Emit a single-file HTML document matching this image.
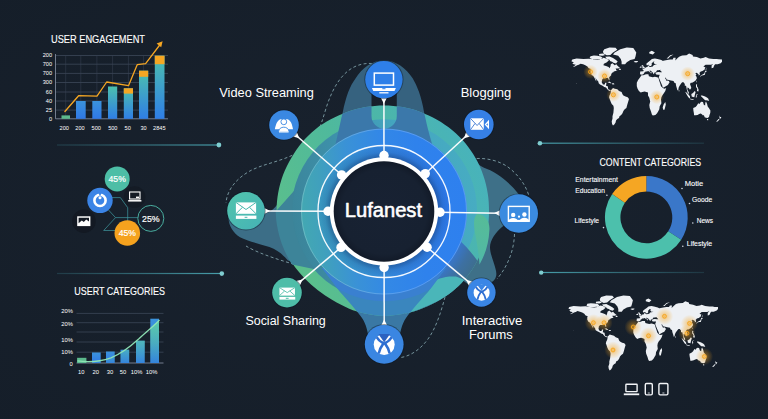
<!DOCTYPE html>
<html><head><meta charset="utf-8"><title>Lufanest</title>
<style>
html,body{margin:0;padding:0;background:#18212c;}
body{width:768px;height:419px;overflow:hidden;font-family:"Liberation Sans",sans-serif;}
svg{display:block}
text{font-family:"Liberation Sans",sans-serif;fill:#fff}
</style></head><body>
<svg width="768" height="419" viewBox="0 0 768 419">
<defs>
<radialGradient id="bgv" cx="50%" cy="50%" r="75%">
 <stop offset="0" stop-color="#19222e"/><stop offset="1" stop-color="#151e29"/>
</radialGradient>
<radialGradient id="glow">
 <stop offset="0" stop-color="#f6a41c" stop-opacity="0.7"/><stop offset="0.4" stop-color="#f6a41c" stop-opacity="0.34"/><stop offset="1" stop-color="#f6a41c" stop-opacity="0"/>
</radialGradient>
<linearGradient id="barg" x1="0" y1="0" x2="0" y2="1">
 <stop offset="0" stop-color="#4cc0ae"/><stop offset="1" stop-color="#2f7ee6"/>
</linearGradient>
<linearGradient id="c2g" gradientUnits="userSpaceOnUse" x1="0" y1="320" x2="0" y2="363"><stop offset="0" stop-color="#66dc9c" stop-opacity="0.8"/><stop offset="0.55" stop-color="#5fd3a0" stop-opacity="0.5"/><stop offset="1" stop-color="#55c8a8" stop-opacity="0.15"/></linearGradient>
<linearGradient id="barb" x1="0" y1="0" x2="0" y2="1">
 <stop offset="0" stop-color="#3b93dc"/><stop offset="1" stop-color="#2f78e6"/>
</linearGradient>
<linearGradient id="g1" x1="0" y1="0.8" x2="1" y2="0.2">
 <stop offset="0" stop-color="#5bbd88"/><stop offset="0.5" stop-color="#4db8a4"/><stop offset="1" stop-color="#47b2b8"/>
</linearGradient>
<linearGradient id="g2" x1="0" y1="0.5" x2="1" y2="0.5">
 <stop offset="0" stop-color="#3f9fb0"/><stop offset="1" stop-color="#3c90c8"/>
</linearGradient>
<linearGradient id="g3" x1="0" y1="0.6" x2="1" y2="0.4">
 <stop offset="0" stop-color="#46b0b8"/><stop offset="0.5" stop-color="#3b98d0"/><stop offset="1" stop-color="#2f7de8"/>
</linearGradient>
<linearGradient id="g4" x1="0" y1="0.6" x2="1" y2="0.4">
 <stop offset="0" stop-color="#3fa2c6"/><stop offset="0.55" stop-color="#3487e0"/><stop offset="1" stop-color="#2b76ec"/>
</linearGradient>
<radialGradient id="core" cx="50%" cy="50%" r="50%">
 <stop offset="0" stop-color="#19233a" stop-opacity="0"/><stop offset="0" stop-color="#182233"/><stop offset="0.85" stop-color="#172131"/><stop offset="1" stop-color="#121a28"/>
</radialGradient>
</defs>
<rect width="768" height="419" fill="url(#bgv)"/>
<defs>
<linearGradient id="lnL" gradientUnits="userSpaceOnUse" x1="58" y1="0" x2="222" y2="0"><stop offset="0" stop-color="#3f8f9c" stop-opacity="0.25"/><stop offset="1" stop-color="#4aa6b2" stop-opacity="0.95"/></linearGradient>
<linearGradient id="lnR" gradientUnits="userSpaceOnUse" x1="540" y1="0" x2="704" y2="0"><stop offset="0" stop-color="#4aa6b2" stop-opacity="0.95"/><stop offset="1" stop-color="#3f8f9c" stop-opacity="0.2"/></linearGradient>
</defs>
<g stroke-width="1" fill="#57b9c4">
<rect x="57" y="144.4" width="162" height="1.2" fill="url(#lnL)"/><circle cx="218.9" cy="145" r="2.4" fill="#7fcdd0"/>
<rect x="57" y="272.9" width="165" height="1.2" fill="url(#lnL)"/><circle cx="221.8" cy="273.6" r="2.3" fill="#7fcdd0"/>
<rect x="540" y="142.6" width="164" height="1.2" fill="url(#lnR)"/><circle cx="539.9" cy="143.2" r="2.3" fill="#7fcdd0"/>
<rect x="541" y="271.9" width="163" height="1.2" fill="url(#lnR)"/><circle cx="541.2" cy="272.6" r="2.2" fill="#7fcdd0"/>
</g>

<g id="chart1">
<text x="51" y="43.2" font-size="10.6" stroke="#fff" stroke-width="0.12" textLength="94" lengthAdjust="spacingAndGlyphs">USER ENGAGEMENT</text>
<line x1="55.5" y1="55.5" x2="168" y2="55.5" stroke="#4a5668" stroke-width="0.6"/>
<line x1="55.5" y1="64.2" x2="168" y2="64.2" stroke="#4a5668" stroke-width="0.6"/>
<line x1="55.5" y1="73.4" x2="168" y2="73.4" stroke="#4a5668" stroke-width="0.6"/>
<line x1="55.5" y1="82.5" x2="168" y2="82.5" stroke="#4a5668" stroke-width="0.6"/>
<line x1="55.5" y1="92" x2="168" y2="92" stroke="#4a5668" stroke-width="0.6"/>
<line x1="55.5" y1="101" x2="168" y2="101" stroke="#4a5668" stroke-width="0.6"/>
<line x1="55.5" y1="110.1" x2="168" y2="110.1" stroke="#4a5668" stroke-width="0.6"/>
<line x1="65.7" y1="55.5" x2="65.7" y2="118.8" stroke="#3a4556" stroke-width="0.5"/>
<line x1="80.8" y1="55.5" x2="80.8" y2="118.8" stroke="#3a4556" stroke-width="0.5"/>
<line x1="96.9" y1="55.5" x2="96.9" y2="118.8" stroke="#3a4556" stroke-width="0.5"/>
<line x1="112.6" y1="55.5" x2="112.6" y2="118.8" stroke="#3a4556" stroke-width="0.5"/>
<line x1="128.4" y1="55.5" x2="128.4" y2="118.8" stroke="#3a4556" stroke-width="0.5"/>
<line x1="143.6" y1="55.5" x2="143.6" y2="118.8" stroke="#3a4556" stroke-width="0.5"/>
<line x1="159.6" y1="55.5" x2="159.6" y2="118.8" stroke="#3a4556" stroke-width="0.5"/>
<line x1="55.5" y1="54" x2="55.5" y2="118.8" stroke="#8b96a8" stroke-width="0.8"/>
<line x1="55.5" y1="118.8" x2="168" y2="118.8" stroke="#8b96a8" stroke-width="0.8"/>
<text x="52" y="57.3" font-size="5.6" text-anchor="end" fill="#e6ebf2">200</text>
<text x="52" y="66.0" font-size="5.6" text-anchor="end" fill="#e6ebf2">700</text>
<text x="52" y="75.2" font-size="5.6" text-anchor="end" fill="#e6ebf2">700</text>
<text x="52" y="84.3" font-size="5.6" text-anchor="end" fill="#e6ebf2">300</text>
<text x="52" y="93.8" font-size="5.6" text-anchor="end" fill="#e6ebf2">60</text>
<text x="52" y="102.8" font-size="5.6" text-anchor="end" fill="#e6ebf2">40</text>
<text x="52" y="111.9" font-size="5.6" text-anchor="end" fill="#e6ebf2">25</text>
<text x="52" y="120.6" font-size="5.6" text-anchor="end" fill="#e6ebf2">0</text>
<text x="64.2" y="129.8" font-size="5.6" text-anchor="middle" fill="#e6ebf2">200</text>
<text x="80" y="129.8" font-size="5.6" text-anchor="middle" fill="#e6ebf2">200</text>
<text x="96.2" y="129.8" font-size="5.6" text-anchor="middle" fill="#e6ebf2">500</text>
<text x="112.8" y="129.8" font-size="5.6" text-anchor="middle" fill="#e6ebf2">500</text>
<text x="127.7" y="129.8" font-size="5.6" text-anchor="middle" fill="#e6ebf2">50</text>
<text x="143.5" y="129.8" font-size="5.6" text-anchor="middle" fill="#e6ebf2">30</text>
<text x="159.3" y="129.8" font-size="5.6" text-anchor="middle" fill="#e6ebf2">2845</text>
<rect x="61.5" y="115.4" width="8.5" height="3.4" fill="#5cb98c"/>
<rect x="76" y="101" width="9.7" height="17.8" fill="url(#barb)"/>
<rect x="92.3" y="101" width="9.2" height="17.8" fill="url(#barb)"/>
<rect x="108" y="86.5" width="9.2" height="32.3" fill="url(#barg)"/>
<rect x="123.8" y="88.3" width="9.2" height="30.5" fill="url(#barg)"/>
<rect x="123.8" y="88.3" width="9.2" height="5.3" fill="#f5a623"/>
<rect x="139" y="70.7" width="9.2" height="48.1" fill="url(#barg)"/>
<rect x="139" y="70.7" width="9.2" height="6.1" fill="#f5a623"/>
<rect x="154.8" y="55.7" width="9.7" height="63.1" fill="url(#barg)"/>
<rect x="154.8" y="55.7" width="9.7" height="8.5" fill="#f5a623"/>
<polyline points="64.9,111.5 78.6,95.7 97,96.2 106.7,82 128.5,85.7 137.2,64.7 145.6,63.6 160.5,44" fill="none" stroke="#f5a623" stroke-width="1.3" stroke-linejoin="round" stroke-linecap="round"/>
<path d="M162.6 41.2 L156.6 43.6 L161.2 47.3 Z" fill="#f5a623"/>
</g>
<g id="bubbles">
<g fill="none" stroke="#3f9aa0" stroke-width="0.7">
<path d="M112 197.6 L120.4 197.6 L127.7 207.7 L127.7 221"/>
<path d="M108.5 210 L115.5 217.6 L138 217.6"/>
<path d="M115.5 217.6 L103.7 230.5 L115 230.5"/>
</g>
<circle cx="134.6" cy="197" r="10.8" fill="#141b25"/>
<circle cx="83.9" cy="221.2" r="11.8" fill="#131923"/>
<circle cx="117.2" cy="178.9" r="12.5" fill="#4dbea6"/>
<circle cx="100" cy="200.4" r="12.7" fill="#3b84e6"/>
<circle cx="150.8" cy="218.4" r="13" fill="#19222e" stroke="#49ad9f" stroke-width="1"/>
<circle cx="127.3" cy="233" r="12.8" fill="#f5a21e"/>
<text x="117.2" y="182" font-size="8.6" text-anchor="middle" stroke="#fff" stroke-width="0.2">45%</text>
<text x="150.8" y="221.6" font-size="8.8" text-anchor="middle" stroke="#fff" stroke-width="0.2">25%</text>
<text x="127.3" y="236.2" font-size="8.6" text-anchor="middle" stroke="#fff" stroke-width="0.2">45%</text>
<g transform="translate(100,200.4)">
 <circle r="5.6" fill="none" stroke="#fff" stroke-width="2.6"/>
 <path d="M-1.6 -8 L0 -3.5 L1.6 -8 Z" fill="#3b84e6"/>
 <circle cx="0" cy="-2.6" r="1.5" fill="#fff"/>
</g>
<g transform="translate(134.8,196.6)" fill="none" stroke="#fff" stroke-width="1.1">
 <rect x="-5.2" y="-4.6" width="10.4" height="7"/><path d="M-6.6 4.2 H6.6" stroke-width="1.5"/><rect x="1.2" y="0" width="3" height="1.6" fill="#fff" stroke="none"/>
</g>
<g transform="translate(83.8,221.2)">
 <rect x="-6.6" y="-4.9" width="13.2" height="9.8" fill="#fff"/>
 <path d="M-5.2 -3.5 L5.2 -3.5 L5.2 0.4 L2.4 -1.6 L0 0.8 L-2 -0.8 L-5.2 2 Z" fill="#131923"/>
</g>
</g>

<g id="chart2">
<text x="74.3" y="295.4" font-size="10.4" stroke="#fff" stroke-width="0.12" textLength="90.6" lengthAdjust="spacingAndGlyphs">USERT CATEGORIES</text>
<line x1="76.5" y1="313.4" x2="163.5" y2="313.4" stroke="#485466" stroke-width="0.6"/>
<line x1="76.5" y1="322.7" x2="163.5" y2="322.7" stroke="#485466" stroke-width="0.6"/>
<line x1="76.5" y1="332" x2="163.5" y2="332" stroke="#485466" stroke-width="0.6"/>
<line x1="76.5" y1="342" x2="163.5" y2="342" stroke="#485466" stroke-width="0.6"/>
<line x1="76.5" y1="352.2" x2="163.5" y2="352.2" stroke="#485466" stroke-width="0.6"/>
<line x1="76.5" y1="363" x2="163.5" y2="363" stroke="#8b96a8" stroke-width="0.8"/>
<text x="72.8" y="312.6" font-size="5.8" text-anchor="end" fill="#e6ebf2">20%</text>
<text x="72.8" y="326" font-size="5.8" text-anchor="end" fill="#e6ebf2">20%</text>
<text x="72.8" y="341.5" font-size="5.8" text-anchor="end" fill="#e6ebf2">10%</text>
<text x="72.8" y="354" font-size="5.8" text-anchor="end" fill="#e6ebf2">10%</text>
<text x="72.8" y="366" font-size="5.8" text-anchor="end" fill="#e6ebf2">0</text>
<text x="81.2" y="373.8" font-size="5.8" text-anchor="middle" fill="#e6ebf2">10</text>
<text x="95.7" y="373.8" font-size="5.8" text-anchor="middle" fill="#e6ebf2">20</text>
<text x="110" y="373.8" font-size="5.8" text-anchor="middle" fill="#e6ebf2">30</text>
<text x="123" y="373.8" font-size="5.8" text-anchor="middle" fill="#e6ebf2">50</text>
<text x="136.5" y="373.8" font-size="5.8" text-anchor="middle" fill="#e6ebf2">10%</text>
<text x="151.5" y="373.8" font-size="5.8" text-anchor="middle" fill="#e6ebf2">10%</text>
<rect x="77.1" y="357.8" width="9.3" height="5.2" fill="#5cb98c"/>
<rect x="92" y="352.5" width="8.7" height="10.5" fill="url(#barb)"/>
<rect x="106" y="351.5" width="8.7" height="11.5" fill="url(#barb)"/>
<rect x="120.5" y="349.7" width="8.7" height="13.3" fill="url(#barb)"/>
<rect x="136" y="340.7" width="8.7" height="22.3" fill="url(#barb)"/>
<rect x="150.3" y="318.7" width="8.7" height="44.3" fill="url(#barb)"/>
<clipPath id="c2bars"><rect x="77.1" y="357.8" width="9.3" height="5.2"/><rect x="92" y="352.5" width="8.7" height="10.5"/><rect x="106" y="351.5" width="8.7" height="11.5"/><rect x="120.5" y="349.7" width="8.7" height="13.3"/><rect x="136" y="340.7" width="8.7" height="22.3"/><rect x="150.3" y="318.7" width="8.7" height="44.3"/></clipPath>
<path d="M77.4 360.9 C88 362.4,100 361.6,110.9 357.8 C122 353.5,131 346,139.2 338.5 C148 330,154 326,159.5 320 L159.5 363 L77.4 363 Z" fill="url(#c2g)" clip-path="url(#c2bars)"/>
<path d="M77.4 360.9 C88 362.4,100 361.6,110.9 357.8 C122 353.5,131 346,139.2 338.5 C148 330,154 326,159.5 320" fill="none" stroke="#8fe6b6" stroke-width="1.3" stroke-opacity="0.95"/>
</g>
<path d="M571.4 61.2L572.3 59.6L576.6 58.4L583.5 59.1L588.7 58.8L593.1 59.3L597.4 59.6L601.7 59.1L603.4 57.8L606.0 58.4L607.3 59.3L609.1 60.1L606.9 62.2L603.9 63.8L603.4 65.2L606.0 66.0L608.6 66.9L609.5 68.2L610.4 66.5L610.8 64.3L612.5 63.3L614.7 65.2L616.4 64.3L617.7 66.0L619.9 67.8L618.2 68.6L615.6 68.6L616.4 70.2L617.7 70.2L615.6 71.1L613.8 71.5L613.4 72.3L612.1 72.7L611.2 74.2L611.2 75.2L609.1 77.2L609.5 79.4L609.1 80.5L608.2 78.3L607.3 77.7L605.2 78.3L603.4 78.3L602.2 79.4L601.7 82.2L603.0 84.5L604.7 84.5L605.2 82.8L606.5 82.8L606.0 85.7L607.8 86.3L608.2 89.3L609.5 89.8L610.8 90.4L609.9 90.9L608.6 90.4L607.3 89.3L606.0 87.5L604.3 86.9L602.6 85.7L600.0 84.5L598.7 83.3L598.3 81.6L596.5 79.4L595.2 77.2L595.7 78.8L596.5 81.6L595.7 80.5L594.4 77.7L593.1 75.7L591.8 75.2L590.5 72.7L590.5 69.8L590.9 69.0L588.7 68.2L587.4 66.5L585.3 65.2L583.1 64.3L580.5 63.8L578.8 64.7L577.1 65.2L574.9 66.5L572.7 66.9L574.9 65.6L575.8 64.7L573.6 64.3L572.3 63.3L574.0 62.2L572.3 61.7L571.4 61.2ZM621.6 64.3L625.1 64.3L626.8 62.2L630.3 60.1L634.6 59.1L635.5 56.5L636.3 52.4L633.3 48.1L626.8 47.5L620.3 49.2L614.7 52.4L613.0 54.5L618.2 55.8L620.8 59.1L621.6 61.7L621.6 64.3ZM589.6 58.1L593.1 59.6L597.4 59.9L600.9 59.3L602.6 57.8L600.9 56.5L597.4 55.8L593.9 55.5L590.5 56.2L589.6 58.1ZM599.1 55.5L602.6 55.8L605.2 54.9L602.6 53.5L599.1 54.0ZM603.4 53.5L606.9 55.2L610.4 54.9L613.0 52.4L617.3 49.7L615.6 47.8L609.5 47.6L604.3 49.2L603.0 51.3L603.4 53.5ZM605.2 56.8L609.5 56.5L613.0 58.1L616.0 60.1L617.7 61.4L616.0 63.4L613.4 62.7L612.1 61.7L610.4 61.2L609.1 59.6L606.9 59.1L605.2 56.8ZM610.8 90.4L613.0 88.1L614.7 88.7L617.3 89.3L619.0 90.9L621.6 92.0L622.5 94.2L623.4 95.4L625.5 96.6L627.7 97.2L629.0 99.0L628.1 102.0L627.2 105.1L626.4 108.0L624.7 109.2L623.4 111.0L622.5 113.3L621.2 115.0L619.5 116.2L619.0 117.9L617.3 119.0L616.0 120.5L615.6 122.5L614.3 124.5L613.0 125.5L612.1 124.0L611.7 121.5L612.5 118.5L612.5 116.2L613.4 112.7L613.8 108.0L613.4 105.7L611.7 103.9L610.8 102.0L609.5 98.4L609.1 97.2L609.5 95.4L610.4 93.7L610.8 92.0L610.8 90.4ZM636.8 86.3L636.8 82.8L638.1 79.9L639.8 77.7L641.5 75.2L643.3 75.2L645.9 74.2L648.4 74.2L648.9 76.2L650.6 76.7L652.8 77.2L654.9 76.7L657.1 77.2L658.4 77.7L659.3 81.1L660.1 83.3L661.0 86.3L662.7 88.1L664.5 88.7L666.2 88.1L665.3 90.9L664.0 93.1L662.3 95.4L661.4 97.2L661.0 99.6L661.4 103.3L659.7 106.3L659.3 109.2L658.4 111.0L657.1 113.3L655.4 115.0L652.8 115.6L651.9 114.4L651.0 111.5L649.7 108.0L649.3 105.1L650.2 101.4L649.3 97.8L648.0 95.4L648.0 92.6L646.3 92.0L644.6 91.5L642.4 92.0L640.7 92.6L638.9 90.9L637.6 88.7L636.8 86.3ZM663.2 109.8L664.5 109.8L665.8 104.5L665.3 102.0L663.6 104.5L662.7 107.5L663.2 109.8ZM640.0 74.2L640.2 71.5L643.3 71.3L643.7 70.2L642.2 69.4L643.3 69.0L645.0 68.2L645.9 67.3L647.6 66.9L647.8 65.6L648.7 65.6L648.9 66.5L650.2 66.9L652.8 66.5L653.6 65.2L656.2 64.5L657.1 64.3L654.9 64.3L653.6 62.7L654.5 61.4L653.2 61.7L651.5 63.8L651.9 64.7L651.0 66.0L649.3 66.0L648.9 64.7L646.7 65.2L646.3 63.8L648.0 62.2L650.2 60.6L651.9 59.1L654.9 58.4L657.5 59.1L661.4 60.1L663.2 61.2L660.6 62.2L659.7 61.2L662.3 60.9L664.5 60.6L667.1 59.9L670.1 59.6L672.7 59.6L673.5 57.8L675.7 57.8L675.3 60.6L677.9 57.8L679.6 56.5L682.2 55.5L686.5 55.2L689.1 53.5L692.6 54.9L693.0 56.5L696.9 57.1L700.4 58.4L703.8 57.8L705.6 57.1L709.0 58.4L713.3 59.1L716.8 59.1L718.5 59.3L722.0 59.6L722.0 61.7L720.7 63.3L717.7 64.3L715.1 64.3L714.2 65.6L713.3 67.8L711.6 68.2L711.6 65.6L713.3 63.8L711.2 64.7L708.2 64.7L705.6 64.7L703.4 66.5L705.1 67.3L704.7 69.4L702.5 71.1L700.8 71.5L699.5 72.7L699.9 74.7L698.6 75.4L698.6 74.2L697.3 73.2L696.5 72.7L695.2 73.2L696.5 74.2L695.6 75.2L696.5 76.7L696.9 78.3L695.6 80.5L694.3 81.6L692.1 82.8L690.8 82.8L690.0 83.9L690.8 86.3L691.3 88.1L690.0 89.8L689.6 89.3L688.7 88.1L687.4 87.5L687.4 89.8L688.7 92.0L689.1 94.0L687.8 93.1L687.0 90.4L686.5 88.1L686.1 85.7L684.8 85.7L684.8 83.9L683.5 82.2L682.2 82.2L681.3 83.3L679.6 85.7L678.7 87.5L678.3 89.8L677.4 90.4L677.0 88.7L676.1 85.7L675.7 83.3L674.4 82.8L673.5 81.1L670.9 80.5L668.8 79.9L666.6 79.4L665.8 77.7L664.9 77.7L666.2 79.9L666.6 81.1L667.9 80.5L668.8 81.1L669.6 82.2L667.9 85.1L665.8 86.3L663.6 87.5L662.7 87.5L662.3 85.7L661.0 82.8L659.3 78.8L658.8 77.2L659.7 74.7L658.0 74.7L656.2 74.4L655.4 73.2L656.7 72.3L658.4 71.9L660.6 72.3L661.9 72.3L661.4 71.5L660.1 70.6L660.6 69.8L658.4 70.2L657.1 70.2L656.2 71.5L656.2 72.3L654.5 72.5L654.1 73.7L653.6 74.2L652.8 72.7L652.3 71.9L650.2 70.6L649.3 70.9L650.6 71.9L651.9 72.5L651.3 73.2L651.0 73.7L650.6 72.5L649.3 71.9L648.4 71.1L646.7 71.5L645.4 71.5L645.4 72.1L644.1 72.7L643.7 73.9L642.0 74.7L640.0 74.2ZM641.7 68.6L644.6 68.2L644.8 67.3L643.5 66.5L643.3 65.4L642.0 65.0L641.5 66.0L642.8 66.7L642.2 67.3L642.8 68.0L641.7 68.6ZM639.8 67.8L641.5 67.8L641.5 66.5L640.4 66.5L639.8 67.1ZM633.7 61.4L634.6 62.2L636.3 62.5L638.1 61.7L637.6 61.0L635.5 60.9L633.7 61.4ZM649.3 53.5L652.8 54.5L654.9 52.4L651.9 50.8L649.3 51.9ZM666.6 58.4L668.3 57.1L670.1 55.2L673.5 54.5L670.1 56.5L668.3 58.4ZM700.4 77.2L701.2 75.7L703.0 75.2L704.7 74.9L705.1 73.7L705.3 72.3L706.9 71.3L706.0 70.6L705.1 71.1L704.7 72.3L704.3 73.4L703.0 74.2L701.2 75.2L700.4 75.9L700.4 77.2ZM705.6 70.2L706.0 68.6L705.6 66.9L706.2 67.8L706.4 69.4ZM696.0 82.2L696.7 80.5L696.9 81.1L696.5 82.2ZM696.0 84.2L697.1 84.5L696.9 86.3L697.8 87.5L698.6 89.8L698.4 91.5L696.9 90.9L697.3 88.7L696.0 86.9L696.0 84.2ZM685.2 91.8L686.5 92.6L688.7 94.8L690.0 96.6L690.0 98.4L688.3 97.2L686.5 94.2L685.2 91.8ZM691.3 94.0L693.0 93.1L694.7 90.9L695.6 92.0L695.0 94.2L694.3 97.2L693.0 96.9L691.7 96.6L691.3 94.0ZM689.8 98.4L691.7 98.9L693.7 99.3L693.4 100.1L690.8 99.6L689.8 99.0L689.8 98.4ZM695.8 97.8L696.0 94.8L697.3 94.2L698.2 94.0L696.5 95.4L697.3 97.2L696.5 96.6L696.3 98.1ZM700.8 95.4L702.1 95.4L703.8 96.0L705.1 96.4L706.9 97.5L708.2 98.4L709.2 101.1L707.7 100.5L706.0 100.2L705.1 100.2L703.8 99.0L702.1 97.2L701.2 96.6L700.8 95.4ZM693.2 108.0L693.4 110.4L693.9 113.3L694.1 115.3L695.6 115.3L697.6 114.9L699.1 114.0L700.8 113.6L702.1 114.4L703.0 115.6L703.8 115.0L704.7 117.3L706.0 117.8L707.5 117.9L709.0 117.0L709.5 115.0L710.3 112.7L710.4 110.4L709.0 108.3L707.7 106.6L707.1 103.9L706.0 101.4L705.3 102.7L705.1 105.4L703.8 104.8L703.0 102.0L701.4 101.7L700.4 102.4L699.5 103.9L698.2 103.3L696.9 105.4L695.6 106.9L693.2 108.0ZM706.9 119.0L708.2 119.0L708.2 120.2L707.3 120.2L706.9 119.0ZM719.0 115.3L719.8 116.7L721.4 117.2L720.7 118.2L719.8 119.2L719.6 117.9L719.0 115.3ZM719.2 119.0L719.4 119.5L718.1 121.0L717.0 121.7L716.2 121.5L717.7 120.0L718.5 119.0L719.2 119.0ZM678.7 89.5L679.5 90.7L679.2 91.5L678.7 91.2L678.7 89.5ZM607.3 82.2L609.5 81.6L611.7 83.3L610.4 83.3L608.2 82.5L607.3 82.2ZM612.1 83.3L613.8 83.3L614.5 84.2L613.0 84.5L612.1 84.2ZM618.6 69.6L619.9 68.2L621.2 69.8L619.9 69.9ZM576.6 83.3L577.1 83.6L576.8 83.9Z" fill="#edf0f4"/>
<circle cx="590.5" cy="71.8" r="7.2" fill="url(#glow)"/><circle cx="590.5" cy="71.8" r="2.0" fill="none" stroke="#f6a41c" stroke-width="0.9"/>
<circle cx="604.5" cy="76" r="7.2" fill="url(#glow)"/><circle cx="604.5" cy="76" r="2.0" fill="none" stroke="#f6a41c" stroke-width="0.9"/>
<circle cx="613.4" cy="94.8" r="7.2" fill="url(#glow)"/><circle cx="613.4" cy="94.8" r="2.0" fill="none" stroke="#f6a41c" stroke-width="0.9"/>
<circle cx="656.8" cy="97" r="7.2" fill="url(#glow)"/><circle cx="656.8" cy="97" r="2.0" fill="none" stroke="#f6a41c" stroke-width="0.9"/>
<circle cx="687.7" cy="73.7" r="7.2" fill="url(#glow)"/><circle cx="687.7" cy="73.7" r="2.0" fill="none" stroke="#f6a41c" stroke-width="0.9"/>
<path d="M568.4 308.6L569.3 307.1L573.6 306.0L580.5 306.6L585.6 306.3L589.9 306.9L594.2 307.1L598.5 306.6L600.2 305.4L602.8 306.0L604.1 306.9L605.8 307.6L603.7 309.6L600.7 311.1L600.2 312.5L602.8 313.3L605.4 314.2L606.3 315.4L607.1 313.7L607.5 311.7L609.3 310.6L611.4 312.5L613.1 311.7L614.4 313.3L616.6 315.0L614.8 315.8L612.3 315.8L613.1 317.4L614.4 317.4L612.3 318.1L610.6 318.5L610.1 319.3L608.8 319.7L608.0 321.1L608.0 322.1L605.8 324.0L606.3 326.2L605.8 327.2L605.0 325.1L604.1 324.5L602.0 325.1L600.2 325.1L598.9 326.2L598.5 328.9L599.8 331.1L601.5 331.1L602.0 329.4L603.2 329.4L602.8 332.2L604.5 332.8L605.0 335.7L606.3 336.2L607.5 336.7L606.7 337.3L605.4 336.7L604.1 335.7L602.8 333.9L601.1 333.4L599.4 332.2L596.8 331.1L595.5 330.0L595.1 328.3L593.4 326.2L592.1 324.0L592.5 325.6L593.4 328.3L592.5 327.2L591.2 324.5L589.9 322.6L588.6 322.1L587.3 319.7L587.3 317.0L587.8 316.2L585.6 315.4L584.3 313.7L582.2 312.5L580.0 311.7L577.5 311.1L575.7 312.1L574.0 312.5L571.9 313.7L569.7 314.2L571.9 312.9L572.7 312.1L570.6 311.7L569.3 310.6L571.0 309.6L569.3 309.1L568.4 308.6ZM618.3 311.7L621.7 311.7L623.4 309.6L626.9 307.6L631.2 306.6L632.0 304.1L632.9 300.2L629.9 296.0L623.4 295.5L617.0 297.1L611.4 300.2L609.7 302.3L614.8 303.5L617.4 306.6L618.3 309.1L618.3 311.7ZM586.5 305.7L589.9 307.1L594.2 307.4L597.7 306.9L599.4 305.4L597.7 304.1L594.2 303.5L590.8 303.2L587.3 303.8L586.5 305.7ZM595.9 303.2L599.4 303.5L602.0 302.6L599.4 301.2L595.9 301.7ZM600.2 301.2L603.7 302.9L607.1 302.6L609.7 300.2L614.0 297.6L612.3 295.7L606.3 295.6L601.1 297.1L599.8 299.1L600.2 301.2ZM602.0 304.4L606.3 304.1L609.7 305.7L612.7 307.6L614.4 308.9L612.7 310.7L610.1 310.1L608.8 309.1L607.1 308.6L605.8 307.1L603.7 306.6L602.0 304.4ZM607.5 336.7L609.7 334.5L611.4 335.1L614.0 335.7L615.7 337.3L618.3 338.3L619.1 340.5L620.0 341.6L622.2 342.7L624.3 343.3L625.6 345.1L624.7 348.0L623.9 350.9L623.0 353.7L621.3 354.9L620.0 356.5L619.1 358.8L617.9 360.4L616.1 361.5L615.7 363.2L614.0 364.2L612.7 365.7L612.3 367.6L611.0 369.5L609.7 370.5L608.8 369.1L608.4 366.6L609.3 363.7L609.3 361.5L610.1 358.2L610.6 353.7L610.1 351.4L608.4 349.7L607.5 348.0L606.3 344.5L605.8 343.3L606.3 341.6L607.1 339.9L607.5 338.3L607.5 336.7ZM633.3 332.8L633.3 329.4L634.6 326.7L636.3 324.5L638.1 322.1L639.8 322.1L642.4 321.1L644.9 321.1L645.4 323.1L647.1 323.6L649.2 324.0L651.4 323.6L653.5 324.0L654.8 324.5L655.7 327.8L656.5 330.0L657.4 332.8L659.1 334.5L660.8 335.1L662.6 334.5L661.7 337.3L660.4 339.4L658.7 341.6L657.8 343.3L657.4 345.6L657.8 349.1L656.1 352.0L655.7 354.9L654.8 356.5L653.5 358.8L651.8 360.4L649.2 361.0L648.4 359.9L647.5 357.1L646.2 353.7L645.8 350.9L646.7 347.4L645.8 343.9L644.5 341.6L644.5 338.9L642.8 338.3L641.1 337.8L638.9 338.3L637.2 338.9L635.5 337.3L634.2 335.1L633.3 332.8ZM659.5 355.4L660.8 355.4L662.1 350.3L661.7 348.0L660.0 350.3L659.1 353.2L659.5 355.4ZM636.6 321.1L636.8 318.5L639.8 318.3L640.2 317.4L638.7 316.6L639.8 316.2L641.5 315.4L642.4 314.6L644.1 314.2L644.3 312.9L645.1 312.9L645.4 313.7L646.7 314.2L649.2 313.7L650.1 312.5L652.7 311.9L653.5 311.7L651.4 311.7L650.1 310.1L651.0 308.9L649.7 309.1L647.9 311.1L648.4 312.1L647.5 313.3L645.8 313.3L645.4 312.1L643.2 312.5L642.8 311.1L644.5 309.6L646.7 308.1L648.4 306.6L651.4 306.0L654.0 306.6L657.8 307.6L659.5 308.6L657.0 309.6L656.1 308.6L658.7 308.4L660.8 308.1L663.4 307.4L666.4 307.1L669.0 307.1L669.9 305.4L672.0 305.4L671.6 308.1L674.2 305.4L675.9 304.1L678.5 303.2L682.8 302.9L685.3 301.2L688.8 302.6L689.2 304.1L693.1 304.8L696.5 306.0L699.9 305.4L701.7 304.8L705.1 306.0L709.4 306.6L712.8 306.6L714.6 306.9L718.0 307.1L718.0 309.1L716.7 310.6L713.7 311.7L711.1 311.7L710.3 312.9L709.4 315.0L707.7 315.4L707.7 312.9L709.4 311.1L707.3 312.1L704.2 312.1L701.7 312.1L699.5 313.7L701.2 314.6L700.8 316.6L698.7 318.1L696.9 318.5L695.7 319.7L696.1 321.6L694.8 322.4L694.8 321.1L693.5 320.2L692.6 319.7L691.4 320.2L692.6 321.1L691.8 322.1L692.6 323.6L693.1 325.1L691.8 327.2L690.5 328.3L688.3 329.4L687.1 329.4L686.2 330.5L687.1 332.8L687.5 334.5L686.2 336.2L685.8 335.7L684.9 334.5L683.6 333.9L683.6 336.2L684.9 338.3L685.3 340.2L684.0 339.4L683.2 336.7L682.8 334.5L682.3 332.2L681.0 332.2L681.0 330.5L679.7 328.9L678.5 328.9L677.6 330.0L675.9 332.2L675.0 333.9L674.6 336.2L673.7 336.7L673.3 335.1L672.4 332.2L672.0 330.0L670.7 329.4L669.9 327.8L667.3 327.2L665.1 326.7L663.0 326.2L662.1 324.5L661.3 324.5L662.6 326.7L663.0 327.8L664.3 327.2L665.1 327.8L666.0 328.9L664.3 331.7L662.1 332.8L660.0 333.9L659.1 333.9L658.7 332.2L657.4 329.4L655.7 325.6L655.2 324.0L656.1 321.6L654.4 321.6L652.7 321.4L651.8 320.2L653.1 319.3L654.8 318.9L657.0 319.3L658.3 319.3L657.8 318.5L656.5 317.8L657.0 317.0L654.8 317.4L653.5 317.4L652.7 318.5L652.7 319.3L651.0 319.5L650.5 320.7L650.1 321.1L649.2 319.7L648.8 318.9L646.7 317.8L645.8 317.9L647.1 318.9L648.4 319.5L647.7 320.2L647.5 320.7L647.1 319.5L645.8 318.9L644.9 318.1L643.2 318.5L641.9 318.5L641.9 319.1L640.6 319.7L640.2 320.9L638.5 321.6L636.6 321.1ZM638.3 315.8L641.1 315.4L641.3 314.6L640.0 313.7L639.8 312.7L638.5 312.3L638.1 313.3L639.3 313.9L638.7 314.6L639.3 315.2L638.3 315.8ZM636.3 315.0L638.1 315.0L638.1 313.7L637.0 313.7L636.3 314.4ZM630.3 308.9L631.2 309.6L632.9 309.9L634.6 309.1L634.2 308.5L632.0 308.4L630.3 308.9ZM645.8 301.2L649.2 302.3L651.4 300.2L648.4 298.6L645.8 299.7ZM663.0 306.0L664.7 304.8L666.4 302.9L669.9 302.3L666.4 304.1L664.7 306.0ZM696.5 324.0L697.4 322.6L699.1 322.1L700.8 321.9L701.2 320.7L701.5 319.3L703.0 318.3L702.1 317.8L701.2 318.1L700.8 319.3L700.4 320.4L699.1 321.1L697.4 322.1L696.5 322.8L696.5 324.0ZM701.7 317.4L702.1 315.8L701.7 314.2L702.3 315.0L702.5 316.6ZM692.2 328.9L692.9 327.2L693.1 327.8L692.6 328.9ZM692.2 330.8L693.3 331.1L693.1 332.8L693.9 333.9L694.8 336.2L694.6 337.8L693.1 337.3L693.5 335.1L692.2 333.4L692.2 330.8ZM681.5 338.1L682.8 338.9L684.9 341.0L686.2 342.7L686.2 344.5L684.5 343.3L682.8 340.5L681.5 338.1ZM687.5 340.2L689.2 339.4L690.9 337.3L691.8 338.3L691.1 340.5L690.5 343.3L689.2 343.0L687.9 342.7L687.5 340.2ZM686.0 344.5L687.9 344.9L689.8 345.3L689.6 346.0L687.1 345.6L686.0 345.1L686.0 344.5ZM692.0 343.9L692.2 341.0L693.5 340.5L694.4 340.2L692.6 341.6L693.5 343.3L692.6 342.7L692.4 344.2ZM696.9 341.6L698.2 341.6L699.9 342.1L701.2 342.6L703.0 343.6L704.2 344.5L705.3 347.1L703.8 346.5L702.1 346.2L701.2 346.2L699.9 345.1L698.2 343.3L697.4 342.7L696.9 341.6ZM689.4 353.7L689.6 356.0L690.1 358.8L690.3 360.7L691.8 360.7L693.7 360.3L695.2 359.4L696.9 359.0L698.2 359.9L699.1 361.0L699.9 360.4L700.8 362.6L702.1 363.1L703.6 363.2L705.1 362.4L705.5 360.4L706.4 358.2L706.5 356.0L705.1 354.0L703.8 352.3L703.2 349.7L702.1 347.4L701.5 348.5L701.2 351.2L699.9 350.6L699.1 348.0L697.6 347.7L696.5 348.2L695.7 349.7L694.4 349.1L693.1 351.2L691.8 352.6L689.4 353.7ZM703.0 364.2L704.2 364.2L704.2 365.4L703.4 365.4L703.0 364.2ZM715.0 360.7L715.9 362.1L717.4 362.5L716.7 363.5L715.9 364.5L715.6 363.2L715.0 360.7ZM715.2 364.2L715.4 364.7L714.1 366.2L713.1 366.9L712.2 366.6L713.7 365.2L714.6 364.2L715.2 364.2ZM675.0 335.9L675.8 337.0L675.4 337.8L675.0 337.5L675.0 335.9ZM604.1 328.9L606.3 328.3L608.4 330.0L607.1 330.0L605.0 329.1L604.1 328.9ZM608.8 330.0L610.6 330.0L611.2 330.8L609.7 331.1L608.8 330.8ZM615.3 316.8L616.6 315.4L617.9 317.0L616.6 317.1ZM573.6 330.0L574.0 330.2L573.8 330.5Z" fill="#edf0f4"/>
<circle cx="593.4" cy="322.7" r="8.7" fill="url(#glow)"/><circle cx="593.4" cy="322.7" r="1.9" fill="none" stroke="#f6a41c" stroke-width="0.9"/>
<circle cx="604" cy="322.7" r="8.7" fill="url(#glow)"/><circle cx="604" cy="322.7" r="1.9" fill="none" stroke="#f6a41c" stroke-width="0.9"/>
<circle cx="633.2" cy="327" r="8.7" fill="url(#glow)"/><circle cx="633.2" cy="327" r="1.9" fill="none" stroke="#f6a41c" stroke-width="0.9"/>
<circle cx="664.5" cy="316.3" r="8.7" fill="url(#glow)"/><circle cx="664.5" cy="316.3" r="1.9" fill="none" stroke="#f6a41c" stroke-width="0.9"/>
<circle cx="689.5" cy="323.4" r="8.7" fill="url(#glow)"/><circle cx="689.5" cy="323.4" r="1.9" fill="none" stroke="#f6a41c" stroke-width="0.9"/>
<circle cx="687" cy="333.3" r="8.7" fill="url(#glow)"/><circle cx="687" cy="333.3" r="1.9" fill="none" stroke="#f6a41c" stroke-width="0.9"/>
<circle cx="648.5" cy="335.8" r="8.7" fill="url(#glow)"/><circle cx="648.5" cy="335.8" r="1.9" fill="none" stroke="#f6a41c" stroke-width="0.9"/>
<circle cx="613" cy="350" r="8.7" fill="url(#glow)"/><circle cx="613" cy="350" r="1.9" fill="none" stroke="#f6a41c" stroke-width="0.9"/>
<circle cx="704.4" cy="356.5" r="8.7" fill="url(#glow)"/><circle cx="704.4" cy="356.5" r="1.9" fill="none" stroke="#f6a41c" stroke-width="0.9"/>
<g fill="none" stroke="#f2f4f7" stroke-width="1.4">
<rect x="625.9" y="384.2" width="11.2" height="7.4" rx="0.6"/><path d="M623.8 394.3 H639.2" stroke-width="1.8"/>
<rect x="645.3" y="383.5" width="7" height="11.4" rx="1.3"/><path d="M647.8 393 H649.8" stroke-width="0.8"/>
<rect x="658.9" y="383.5" width="9" height="11.4" rx="1.3"/><path d="M662.4 393 H664.4" stroke-width="0.8"/>
</g>

<g id="donut">
<text x="599.5" y="165.7" font-size="10.4" stroke="#fff" stroke-width="0.12" textLength="101.7" lengthAdjust="spacingAndGlyphs">CONTENT CATEGORIES</text>
<path d="M646.30 176.00 A41.4 41.4 0 0 1 681.22 239.64 L668.23 231.37 A26 26 0 0 0 646.30 191.40 Z" fill="#3a77c9"/>
<path d="M681.22 239.64 A41.4 41.4 0 1 1 612.18 193.95 L624.87 202.67 A26 26 0 1 0 668.23 231.37 Z" fill="#4cc0ac"/>
<path d="M612.18 193.95 A41.4 41.4 0 0 1 646.30 176.00 L646.30 191.40 A26 26 0 0 0 624.87 202.67 Z" fill="#f5a623"/>
<text x="575.3" y="181.6" font-size="7.5" fill="#f2f4f8" stroke="#f2f4f8" stroke-width="0.12" textLength="42.6" lengthAdjust="spacingAndGlyphs">Entertainment</text>
<text x="575.3" y="193.4" font-size="7.5" fill="#f2f4f8" stroke="#f2f4f8" stroke-width="0.12" textLength="29.6" lengthAdjust="spacingAndGlyphs">Education</text>
<text x="574.5" y="222.8" font-size="7.5" fill="#f2f4f8" stroke="#f2f4f8" stroke-width="0.12" textLength="24.6" lengthAdjust="spacingAndGlyphs">Lifestyle</text>
<text x="684.8" y="186" font-size="7.5" fill="#f2f4f8" stroke="#f2f4f8" stroke-width="0.12" textLength="18.4" lengthAdjust="spacingAndGlyphs">Motie</text>
<text x="692" y="201.8" font-size="7.5" fill="#f2f4f8" stroke="#f2f4f8" stroke-width="0.12" textLength="20.2" lengthAdjust="spacingAndGlyphs">Goode</text>
<text x="696.7" y="222.8" font-size="7.5" fill="#f2f4f8" stroke="#f2f4f8" stroke-width="0.12" textLength="16.4" lengthAdjust="spacingAndGlyphs">News</text>
<text x="686.8" y="246.2" font-size="7.5" fill="#f2f4f8" stroke="#f2f4f8" stroke-width="0.12" textLength="25.4" lengthAdjust="spacingAndGlyphs">Lifestyle</text>
<circle cx="682" cy="188.5" r="0.8" fill="#cfd6e0"/>
<circle cx="689.5" cy="203.5" r="0.8" fill="#cfd6e0"/>
<circle cx="692.8" cy="223" r="0.8" fill="#cfd6e0"/>
<circle cx="682.8" cy="246.3" r="0.8" fill="#cfd6e0"/>
<circle cx="603.5" cy="227.6" r="0.8" fill="#cfd6e0"/>
<circle cx="606.9" cy="195.2" r="0.8" fill="#cfd6e0"/>
</g><defs>
<linearGradient id="leafg" gradientUnits="userSpaceOnUse" x1="484" y1="216" x2="470" y2="274"><stop offset="0" stop-color="#56bc98"/><stop offset="0.6" stop-color="#52b9a2"/><stop offset="1" stop-color="#4ab5b6"/></linearGradient>
<radialGradient id="seg" gradientUnits="userSpaceOnUse" cx="384" cy="211.5" r="107"><stop offset="0.775" stop-color="#3976c8"/><stop offset="0.88" stop-color="#3d70a2"/><stop offset="1" stop-color="#3e6e8c"/></radialGradient>
<linearGradient id="o1" gradientUnits="userSpaceOnUse" x1="285" y1="260" x2="480" y2="165">
 <stop offset="0" stop-color="#5cc08a"/><stop offset="0.45" stop-color="#4fb99c"/><stop offset="1" stop-color="#48b3bb"/>
</linearGradient>
<linearGradient id="o2" gradientUnits="userSpaceOnUse" x1="291" y1="230" x2="477" y2="195">
 <stop offset="0" stop-color="#3b8499"/><stop offset="0.35" stop-color="#3e92ac"/><stop offset="0.65" stop-color="#44a6c0"/><stop offset="1" stop-color="#47acc2"/>
</linearGradient>
<linearGradient id="o3" gradientUnits="userSpaceOnUse" x1="301" y1="218" x2="467" y2="205">
 <stop offset="0" stop-color="#43a8b2"/><stop offset="0.13" stop-color="#40a0bd"/><stop offset="0.3" stop-color="#3a92d6"/><stop offset="0.5" stop-color="#3388e6"/><stop offset="0.72" stop-color="#2f82ec"/><stop offset="1" stop-color="#2e80ef"/>
</linearGradient>
<linearGradient id="o4" gradientUnits="userSpaceOnUse" x1="317" y1="222" x2="451" y2="200">
 <stop offset="0" stop-color="#3b9cc0"/><stop offset="0.5" stop-color="#3487df"/><stop offset="1" stop-color="#2d78ea"/>
</linearGradient>
<radialGradient id="sh" gradientUnits="userSpaceOnUse" cx="384" cy="211.5" r="66">
 <stop offset="0.82" stop-color="#0e2a5a" stop-opacity="0.4"/><stop offset="0.9" stop-color="#0e2a5a" stop-opacity="0.12"/><stop offset="1" stop-color="#0e2a5a" stop-opacity="0"/>
</radialGradient>
</defs>
<g fill="none" stroke="#9cc4cc" stroke-width="1" stroke-dasharray="3 2.4" stroke-opacity="0.7">
<path d="M372 63.5 C348 62,334 82,325.5 110 C320 128,318 138,297 153 C280 162,262 164,249 171.5 C236 179,227 190,226 203"/>
<path d="M466 160 C482 156,500 160,510.5 169 C520 177,526 186,529 196"/>
<path d="M514.5 234 C514 250,508 266,497 279"/>
<path d="M445 297 C441 312,436 328,428 339 C420 350,410 356,401 357.5"/>
<path d="M246 246 C256 252,272 258,300 266"/>
</g>

<g id="petals">
<clipPath id="cd"><path d="M384.0 105.5 C390.1 105.5,396.4 106.0,402.4 107.1 C408.5 108.2,414.5 109.8,420.2 111.9 C426.0 114.0,431.7 116.7,437.0 119.7 C442.3 122.7,447.5 126.2,452.3 130.2 C457.0 134.1,461.4 138.5,465.4 143.2 C469.3 148.0,472.8 153.1,475.8 158.5 C478.8 163.9,481.3 169.6,483.3 175.4 C485.3 181.1,486.8 187.2,487.7 193.2 C488.7 199.2,489.0 205.4,489.0 211.5 C489.0 217.6,488.6 223.8,487.6 229.8 C486.7 235.8,485.2 241.8,483.1 247.6 C481.1 253.3,478.4 259.0,475.4 264.2 C472.3 269.5,468.8 274.7,464.8 279.3 C460.9 283.9,456.4 288.3,451.6 292.1 C446.8 295.8,441.6 299.1,436.2 302.0 C430.9 304.9,425.3 307.4,419.6 309.4 C413.9 311.4,408.0 313.0,402.1 314.1 C396.2 315.2,390.0 316.1,384.0 316.0 C378.0 315.9,371.9 315.0,366.0 313.8 C360.1 312.5,354.2 310.7,348.7 308.4 C343.2 306.2,337.9 303.3,332.8 300.3 C327.6 297.2,322.6 293.9,317.9 290.3 C313.2 286.6,308.7 282.6,304.5 278.2 C300.3 273.8,296.2 269.2,292.8 264.1 C289.4 259.1,286.6 253.5,284.3 247.8 C282.0 242.1,280.1 236.1,278.8 230.1 C277.5 224.0,276.7 217.7,276.6 211.5 C276.5 205.3,277.1 199.0,278.2 192.8 C279.3 186.7,280.9 180.6,283.1 174.8 C285.3 169.0,288.2 163.4,291.3 158.0 C294.5 152.6,297.9 147.3,301.9 142.6 C305.9 137.8,310.4 133.4,315.2 129.5 C320.0 125.6,325.3 122.2,330.8 119.3 C336.2 116.3,341.9 113.8,347.7 111.7 C353.5 109.7,359.5 108.2,365.6 107.1 C371.6 106.1,377.9 105.5,384.0 105.5Z"/></clipPath>
<clipPath id="cb"><ellipse cx="384.3" cy="210.2" rx="92.7" ry="91"/></clipPath>
<path d="M330 165 C336 145,339.5 125,342.6 113 C346 96,350 86,355.5 78.6 C362 68,372 60.5,384 60.5 C396 60.5,406 68,412.8 78.6 C417 86,421.5 96,424.2 113 C427 125,431 145,440 165 Z M371.5 92 L396.8 92 L396.8 116 A12.65 12.65 0 0 1 371.5 116 Z" fill="#36627f" fill-rule="evenodd"/>
<path d="M470 152 C475 161,479 165.5,484 167.8 C495 171.5,509 181.5,519 194.5 L522 215 C512 222,506 224,502 227 C496 232,490 240,490 247.3 C490 254,494 262,495.5 268.8 C497 274,497 278,492 282 L481 293 L468 284 L462 280 L440 280 L440 200 Z" fill="#3e7088"/>
<path d="M322 268 L340 292 C350 303,357 311,362 318 C366 324,368.5 332,369 345 L399 345 C399.5 332,402 324,406 318 C411 311,418 303,428 292 L446 268 Z" fill="#3a78a4"/>
<path d="M262 214.5 C268 213.5,273 210,277 205 L300 205 L310 240 L300 264 L288 260.5 C284 256,278 250,269.4 247.1 C258 243.5,247 241,240 237.2 C233 233,229 226,228.5 218.6 C228 210,236 200,246 200 Z" fill="#3c6e87"/>
<path d="M384.0 105.5 C390.1 105.5,396.4 106.0,402.4 107.1 C408.5 108.2,414.5 109.8,420.2 111.9 C426.0 114.0,431.7 116.7,437.0 119.7 C442.3 122.7,447.5 126.2,452.3 130.2 C457.0 134.1,461.4 138.5,465.4 143.2 C469.3 148.0,472.8 153.1,475.8 158.5 C478.8 163.9,481.3 169.6,483.3 175.4 C485.3 181.1,486.8 187.2,487.7 193.2 C488.7 199.2,489.0 205.4,489.0 211.5 C489.0 217.6,488.6 223.8,487.6 229.8 C486.7 235.8,485.2 241.8,483.1 247.6 C481.1 253.3,478.4 259.0,475.4 264.2 C472.3 269.5,468.8 274.7,464.8 279.3 C460.9 283.9,456.4 288.3,451.6 292.1 C446.8 295.8,441.6 299.1,436.2 302.0 C430.9 304.9,425.3 307.4,419.6 309.4 C413.9 311.4,408.0 313.0,402.1 314.1 C396.2 315.2,390.0 316.1,384.0 316.0 C378.0 315.9,371.9 315.0,366.0 313.8 C360.1 312.5,354.2 310.7,348.7 308.4 C343.2 306.2,337.9 303.3,332.8 300.3 C327.6 297.2,322.6 293.9,317.9 290.3 C313.2 286.6,308.7 282.6,304.5 278.2 C300.3 273.8,296.2 269.2,292.8 264.1 C289.4 259.1,286.6 253.5,284.3 247.8 C282.0 242.1,280.1 236.1,278.8 230.1 C277.5 224.0,276.7 217.7,276.6 211.5 C276.5 205.3,277.1 199.0,278.2 192.8 C279.3 186.7,280.9 180.6,283.1 174.8 C285.3 169.0,288.2 163.4,291.3 158.0 C294.5 152.6,297.9 147.3,301.9 142.6 C305.9 137.8,310.4 133.4,315.2 129.5 C320.0 125.6,325.3 122.2,330.8 119.3 C336.2 116.3,341.9 113.8,347.7 111.7 C353.5 109.7,359.5 108.2,365.6 107.1 C371.6 106.1,377.9 105.5,384.0 105.5Z" fill="url(#o1)"/>
<ellipse cx="384.3" cy="210.2" rx="92.7" ry="91" fill="url(#o2)"/>
<g clip-path="url(#cd)">
<path d="M459 240 C466 246,472 253,479 263 L476 275 L466 290 L405 318 L398 290 L440 240 Z" fill="url(#seg)"/>
<path d="M466.5 282.2 C466.7 283.8,461.8 285.2,459.4 286.9 C457.0 288.6,454.6 290.6,452.2 292.3 C449.8 294.0,447.7 295.4,445.1 297.0 C442.5 298.6,439.7 300.3,436.7 301.8 C433.7 303.3,430.0 304.8,427.2 306.0 C424.4 307.2,422.5 308.0,420.0 309.0 C417.5 310.0,414.4 311.0,412.0 311.8 C409.6 312.6,406.2 314.9,405.5 314.0 C404.8 313.1,406.5 308.6,407.5 306.5 C408.5 304.4,410.2 303.2,411.5 301.5 C412.8 299.8,414.1 298.1,415.5 296.5 C416.9 294.9,418.1 293.9,420.0 292.1 C421.9 290.3,424.6 287.5,427.2 285.5 C429.8 283.5,432.7 281.5,435.5 280.1 C438.3 278.8,441.3 278.0,443.9 277.4 C446.5 276.8,448.6 276.6,451.0 276.6 C453.4 276.6,455.6 276.3,458.2 277.2 C460.8 278.1,466.3 280.6,466.5 282.2Z" fill="#4ab6b9"/>
</g>
<path d="M477 214 C486 215,490 222,489.4 230 C488.8 243,485.5 254,479.5 264.5 C478.5 251,476.5 241,474.5 230 C473.5 222,474 217,477 214 Z" fill="url(#leafg)"/>
<g clip-path="url(#cd)">
<path d="M330 165 C336 145,339.5 125,342.6 113 C346 96,350 86,355.5 78.6 C362 68,372 60.5,384 60.5 C396 60.5,406 68,412.8 78.6 C417 86,421.5 96,424.2 113 C427 125,431 145,440 165 Z M371.5 92 L396.8 92 L396.8 116 A12.65 12.65 0 0 1 371.5 116 Z" fill="#3b78aa" fill-rule="evenodd"/>
<path d="M322 268 L340 292 C350 303,357 311,362 318 C366 324,368.5 332,369 345 L399 345 C399.5 332,402 324,406 318 C411 311,418 303,428 292 L446 268 Z" fill="#3a86be"/>
</g>
<path d="M294.6 190.2 A91.5 89.8 0 0 0 315 269.2 L292.03 264.60 C288.64 259.49,285.80 253.83,283.45 248.10 C281.10 242.37,279.22 236.31,277.93 230.21 C276.63 224.11,275.80 217.75,275.69 211.50 Z" fill="#3d8499"/>
<g clip-path="url(#cb)">
<path d="M322 268 L340 292 C350 303,357 311,362 318 C366 324,368.5 332,369 345 L399 345 C399.5 332,402 324,406 318 C411 311,418 303,428 292 L446 268 Z" fill="#3a80d0"/>
</g>
</g>

<g id="disc">
<circle cx="384" cy="211.5" r="83" fill="url(#o3)"/>
<circle cx="384" cy="211.5" r="82.5" fill="none" stroke="#fff" stroke-opacity="0.22" stroke-width="0.9"/>
<circle cx="384" cy="211.5" r="66" fill="url(#o4)"/>
<circle cx="384" cy="211.5" r="66" fill="url(#sh)"/>
</g>

<defs><linearGradient id="wic" x1="0" y1="0" x2="1" y2="1"><stop offset="0" stop-color="#52c4ac"/><stop offset="1" stop-color="#45b2b6"/></linearGradient></defs>
<g stroke="#fff" stroke-width="1.5" stroke-opacity="0.97">
<line x1="384.0" y1="157.5" x2="383.9" y2="98.8"/>
<line x1="384.1" y1="265.5" x2="384.2" y2="324.4"/>
<line x1="330.0" y1="211.2" x2="265.3" y2="210.9"/>
<line x1="438.0" y1="212.3" x2="499.1" y2="213.2"/>
<line x1="343.2" y1="176.2" x2="295.6" y2="135.0"/>
<line x1="423.8" y1="175.0" x2="467.5" y2="134.8"/>
<line x1="342.6" y1="246.1" x2="298.7" y2="282.8"/>
<line x1="425.5" y1="246.0" x2="470.1" y2="283.1"/>
</g>
<circle cx="384" cy="211.5" r="66" fill="none" stroke="#fff" stroke-width="1.3" stroke-opacity="0.95"/>
<circle cx="384" cy="211.5" r="54.2" fill="#fff"/>
<circle cx="384" cy="211.5" r="50.3" fill="url(#core)"/>
<circle cx="384.0" cy="155.5" r="4.7" fill="#fff"/>
<path d="M386.9 97.8 L383.9 103.7 L380.9 97.8 Z" fill="#fff"/>
<circle cx="384.1" cy="267.5" r="4.7" fill="#fff"/>
<path d="M381.2 325.4 L384.2 319.5 L387.2 325.4 Z" fill="#fff"/>
<circle cx="328.0" cy="211.2" r="4.7" fill="#fff"/>
<path d="M264.3 207.9 L270.2 210.9 L264.3 213.9 Z" fill="#fff"/>
<circle cx="440.0" cy="212.3" r="4.7" fill="#fff"/>
<path d="M500.1 216.2 L494.2 213.1 L500.1 210.2 Z" fill="#fff"/>
<circle cx="341.6" cy="174.9" r="4.7" fill="#fff"/>
<path d="M296.8 132.1 L299.3 138.2 L292.9 136.6 Z" fill="#fff"/>
<circle cx="425.3" cy="173.6" r="4.7" fill="#fff"/>
<path d="M470.3 136.4 L463.9 138.2 L466.2 132.0 Z" fill="#fff"/>
<circle cx="341.0" cy="247.4" r="4.7" fill="#fff"/>
<path d="M296.0 281.1 L302.5 279.6 L299.9 285.7 Z" fill="#fff"/>
<circle cx="427.1" cy="247.3" r="4.7" fill="#fff"/>
<path d="M468.9 286.0 L466.3 280.0 L472.8 281.4 Z" fill="#fff"/>
<text x="344.8" y="217.2" font-size="19.6" stroke="#fff" stroke-width="0.55" stroke-linejoin="round" textLength="77.2" lengthAdjust="spacingAndGlyphs">Lufanest</text>
<circle cx="383.9" cy="79.6" r="19.599999999999998" fill="#0c1624" fill-opacity="0.45"/>
<circle cx="383.9" cy="79.6" r="18.7" fill="#2e7fe8"/>
<circle cx="384.2" cy="344.3" r="20.299999999999997" fill="#0c1624" fill-opacity="0.45"/>
<circle cx="384.2" cy="344.3" r="19.4" fill="#3a86e2"/>
<circle cx="246" cy="210.8" r="19.7" fill="#0c1624" fill-opacity="0.45"/>
<circle cx="246" cy="210.8" r="18.8" fill="url(#wic)"/>
<circle cx="518.8" cy="213.5" r="20.099999999999998" fill="#0c1624" fill-opacity="0.45"/>
<circle cx="518.8" cy="213.5" r="19.2" fill="#3b8be0"/>
<circle cx="284" cy="125" r="15.700000000000001" fill="#0c1624" fill-opacity="0.45"/>
<circle cx="284" cy="125" r="14.8" fill="#3a88e2"/>
<circle cx="478.8" cy="124.5" r="15.700000000000001" fill="#0c1624" fill-opacity="0.45"/>
<circle cx="478.8" cy="124.5" r="14.8" fill="#3680e6"/>
<circle cx="287" cy="292.6" r="15.700000000000001" fill="#0c1624" fill-opacity="0.45"/>
<circle cx="287" cy="292.6" r="14.8" fill="#4ebda8"/>
<circle cx="481.4" cy="292.5" r="15.1" fill="#0c1624" fill-opacity="0.45"/>
<circle cx="481.4" cy="292.5" r="14.2" fill="#3a86e6"/>
<g transform="translate(383.9,79.6)" fill="none" stroke="#fff" stroke-width="1.5">
<rect x="-9.6" y="-6.5" width="19.2" height="12"/><path d="M-12 8.4 H12 L10.6 11.4 H-10.6 Z" fill="#fff" stroke="none"/><rect x="-1.6" y="8.6" width="3.2" height="1" fill="#2e7fe8" stroke="none"/><path d="M-4.6 13.2 H4.6" stroke-width="1.3"/>
</g>
<g transform="translate(246,210.8)">
<rect x="-10.1" y="-8.4" width="20.2" height="11.4" fill="#fff"/>
<path d="M-10.1 -8.4 L0 -1.3 L10.1 -8.4 M-10.1 3.0 L-3.4 -3.6 M10.1 3.0 L3.4 -3.6" fill="none" stroke="#4bb9ae" stroke-width="1.0"/>
<rect x="-10.1" y="4.8" width="20.5" height="3.3" fill="#fff"/><rect x="-1.4" y="6.0" width="2.8" height="1" fill="#4bb9ae"/>
</g>
<g transform="translate(287.2,292.6)">
<rect x="-7.75" y="-5" width="15.5" height="8" fill="#fff"/>
<path d="M-7.75 -5 L0 -0.0 L7.75 -5 M-7.75 3 L-2.6 -1.6 M7.75 3 L2.6 -1.6" fill="none" stroke="#4ebda8" stroke-width="0.85"/>
<rect x="-7.75" y="4.3" width="15.8" height="2.7" fill="#fff"/><rect x="-1.4" y="5.2" width="2.8" height="1" fill="#4ebda8"/>
</g>
<g transform="translate(478.8,124.5)">
<rect x="-8.4" y="-6.2" width="13.4" height="11.5" fill="#fff"/><path d="M-8.4 -6.2 L-1.7 1 L5 -6.2 M-8.4 5.3 L-3.8 -1 M5 5.3 L0.4 -1" fill="none" stroke="#2f6fd0" stroke-width="0.85"/>
<path d="M5.9 0 L10.2 -4.8 V4.8 Z" fill="#fff"/><path d="M7.4 0 L9 -1.2 V1.2 Z" fill="#3680e6"/>
</g>
<g transform="translate(284,125)">
<path d="M-9.2 4.3 C-8.2 -1,-6.4 -5,-3.6 -5.8 L3.6 -5.8 C6.4 -5,8.2 -1,9 4.3 Z" fill="#fff"/>
<circle cx="-0.2" cy="-3.2" r="2.9" fill="#fff" stroke="#3a88e2" stroke-width="0.9"/>
<path d="M-5.4 6.9 C-5.4 0.6,5 0.6,5 6.9 Z" fill="#fff" stroke="#3a88e2" stroke-width="0.9"/>
<path d="M-5 6.9 H4.6" stroke="#fff" stroke-width="1.2"/>
</g>
<g transform="translate(518.8,213.5)">
<rect x="-10.4" y="-7.1" width="20.8" height="14.8" fill="none" stroke="#fff" stroke-width="1.4"/>
<g fill="#fff"><circle cx="-5.6" cy="1.4" r="2.2"/><circle cx="5.6" cy="1" r="2.2"/><circle cx="0.2" cy="3.2" r="1.1"/>
<path d="M-10.4 8 C-10.4 3.2,-0.8 3.2,-0.8 8 Z"/><path d="M0.8 8 C0.8 3,10.4 3,10.4 8 Z"/><rect x="-10.4" y="6.4" width="20.8" height="1.9"/></g>
</g>
<g transform="translate(481.6,292.7) scale(0.93)">
<circle r="8.6" fill="#fff"/>
<path d="M-4.8 -8.6 L0 -2 L4.8 -8.6 Z" fill="#3a86e6"/>
<path d="M-6.2 -6.2 C-4.8 -3.6,-2.4 -2,-0.6 -1 C-2.6 1.6,-3.9 4.2,-4.5 7.4 M6.2 -6.2 C4.8 -3.6,2.4 -2,0.6 -1 C2.6 1.6,3.9 4.2,4.5 7.4" fill="none" stroke="#2f6fd2" stroke-width="2.05"/>
<circle cy="-1.3" r="1.7" fill="#2f6fd2" fill-opacity="0.55"/>
</g>
<g transform="translate(384.2,344.6) scale(1.22)">
<circle r="8.6" fill="#fff"/>
<path d="M-4.8 -8.6 L0 -2 L4.8 -8.6 Z" fill="#2c62c0"/>
<path d="M-6.2 -6.2 C-4.8 -3.6,-2.4 -2,-0.6 -1 C-2.6 1.6,-3.9 4.2,-4.5 7.4 M6.2 -6.2 C4.8 -3.6,2.4 -2,0.6 -1 C2.6 1.6,3.9 4.2,4.5 7.4" fill="none" stroke="#2f6fd2" stroke-width="2.05"/>
<circle cy="-1.3" r="1.7" fill="#2f6fd2" fill-opacity="0.55"/>
</g>
<text x="219.3" y="97.3" font-size="12.8" textLength="94.6" lengthAdjust="spacingAndGlyphs">Video Streaming</text>
<text x="460.7" y="97.3" font-size="13" textLength="50.6" lengthAdjust="spacingAndGlyphs">Blogging</text>
<text x="245.4" y="325.2" font-size="12.5" textLength="80.4" lengthAdjust="spacingAndGlyphs">Social Sharing</text>
<text x="461.7" y="325.2" font-size="13" textLength="60.6" lengthAdjust="spacingAndGlyphs">Interactive</text>
<text x="468.9" y="338.6" font-size="13" textLength="43.9" lengthAdjust="spacingAndGlyphs">Forums</text>
</svg></body></html>
